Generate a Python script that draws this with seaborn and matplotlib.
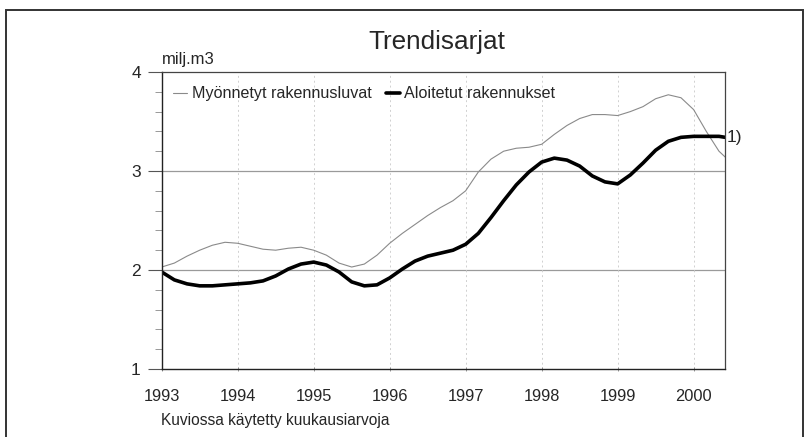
import matplotlib
matplotlib.use("Agg")
import matplotlib.pyplot as plt
import seaborn as sns
import pandas as pd
import numpy as np
from matplotlib.patches import Rectangle
from matplotlib.lines import Line2D

# ---- data (month index from Jan 1993) ----
months = [0, 2, 4, 6, 8, 10, 12, 14, 16, 18, 20, 22, 24, 26, 28, 30, 32, 34, 36,
          38, 40, 42, 44, 46, 48, 50, 52, 54, 56, 58, 60, 62, 64, 66, 68, 70, 72,
          74, 76, 78, 80, 82, 84, 86, 88, 89]
myonnetyt = [2.03, 2.07, 2.14, 2.20, 2.25, 2.28, 2.27, 2.24, 2.21, 2.20, 2.22, 2.23,
             2.20, 2.15, 2.07, 2.03, 2.06, 2.15, 2.27, 2.37, 2.46, 2.55, 2.63, 2.70,
             2.80, 2.99, 3.12, 3.20, 3.23, 3.24, 3.27, 3.37, 3.46, 3.53, 3.57, 3.57,
             3.56, 3.60, 3.65, 3.73, 3.77, 3.74, 3.62, 3.40, 3.20, 3.14]
aloitetut = [1.98, 1.90, 1.86, 1.84, 1.84, 1.85, 1.86, 1.87, 1.89, 1.94, 2.01, 2.06,
             2.08, 2.05, 1.98, 1.88, 1.84, 1.85, 1.92, 2.01, 2.09, 2.14, 2.17, 2.20,
             2.26, 2.37, 2.53, 2.70, 2.86, 2.99, 3.09, 3.13, 3.11, 3.05, 2.95, 2.89,
             2.87, 2.96, 3.08, 3.21, 3.30, 3.34, 3.35, 3.35, 3.35, 3.34]
series_names = ["Myönnetyt rakennusluvat", "Aloitetut rakennukset"]
year_ticks = [1993, 1994, 1995, 1996, 1997, 1998, 1999, 2000]
y_ticks = [1, 2, 3, 4]

title = "Trendisarjat"
unit = "milj.m3"
footnote = "Kuviossa käytetty kuukausiarvoja"
note = "1)"

df = pd.DataFrame({
    "year": [1993 + m / 12 for m in months] * 2,
    "value": myonnetyt + aloitetut,
    "series": [series_names[0]] * len(months) + [series_names[1]] * len(months),
})

sns.set_theme(style="white")
plt.rcParams["font.family"] = ["Liberation Sans", "DejaVu Sans"]

W, H = 812, 437
fig = plt.figure(figsize=(W / 100, H / 100), dpi=100)
fig.patch.set_facecolor("white")
ax = fig.add_axes([161.7 / W, 1 - 369 / H, (725.3 - 161.7) / W, (369 - 72) / H])

palette = {series_names[0]: "#8a8a8a", series_names[1]: "black"}
sizes = {series_names[0]: 0.8, series_names[1]: 2.6}
sns.lineplot(data=df, x="year", y="value", hue="series", size="series",
             palette=palette, sizes=sizes, legend=False, ax=ax)

ax.set_xlim(1993, 1993 + 89 / 12)
ax.set_ylim(1, 4)
ax.set_xticks(year_ticks)
ax.set_xticklabels([str(y) for y in year_ticks])
ax.set_yticks(y_ticks)
ax.set_yticks(np.arange(1, 4.01, 0.2), minor=True)
ax.set_xlabel("")
ax.set_ylabel("")

for y in [2, 3]:
    ax.axhline(y, color="#9a9a9a", lw=0.9, zorder=0)
for x in year_ticks[1:]:
    ax.axvline(x, color="#d0d0d0", lw=0.7, ls=(0, (2, 3)), zorder=0)

ax.tick_params(axis="y", which="major", length=10, width=0.8, color="#555555",
               labelsize=12.5, pad=5, left=True)
ax.tick_params(axis="y", which="minor", length=5, width=0.6, color="#888888", left=True)
ax.tick_params(axis="x", which="major", length=3, width=0.6, color="#888888",
               labelsize=11.8, pad=13, bottom=True, direction="inout")

for side in ["left", "bottom"]:
    ax.spines[side].set_color("#222222")
    ax.spines[side].set_linewidth(1.0)
for side in ["top", "right"]:
    ax.spines[side].set_color("#444444")
    ax.spines[side].set_linewidth(0.9)

handles = [Line2D([], [], color="#8a8a8a", lw=0.8), Line2D([], [], color="black", lw=2.6)]
ax.legend(handles, series_names, loc="upper left", ncol=2, frameon=False,
          fontsize=11.6, handlelength=0.9, handletextpad=0.25, columnspacing=0.9,
          bbox_to_anchor=(0.0, 0.99), borderaxespad=0.3)

ax.text(1.003, (3.34 - 1) / 3, note, transform=ax.transAxes, fontsize=12.5,
        ha="left", va="center")

fig.text(437 / W, 1 - 49 / H, title, fontsize=18.8, ha="center", va="baseline")
fig.text(162 / W, 1 - 64 / H, unit, fontsize=12, ha="left", va="baseline")
fig.text(161 / W, 1 - 425 / H, footnote, fontsize=11.2, ha="left", va="baseline")

fig.patches.append(Rectangle((6 / W, -0.1), (803 - 6) / W, 1.1 - 10 / H,
                             transform=fig.transFigure, fill=False,
                             edgecolor="#333333", lw=1.4))

fig.savefig("out.png", dpi=100, facecolor="white")
